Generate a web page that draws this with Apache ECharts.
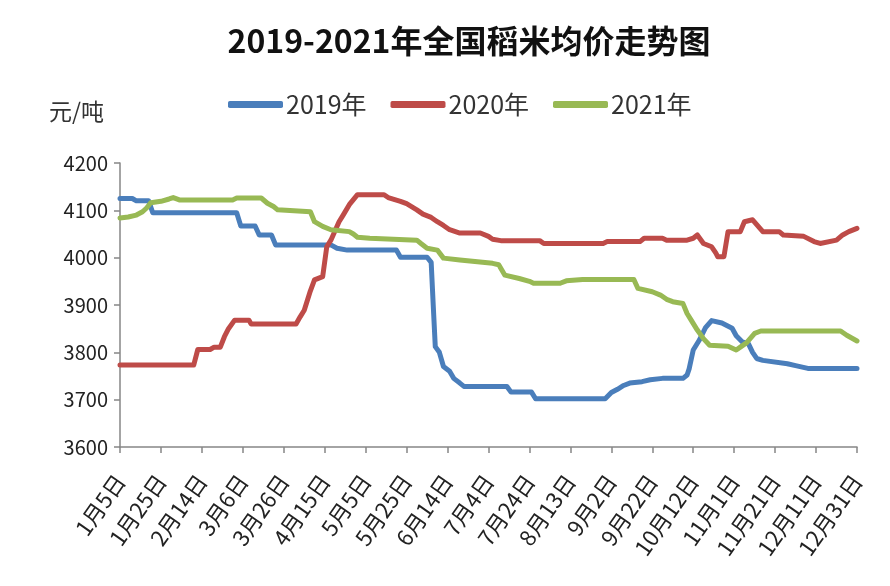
<!DOCTYPE html>
<html>
<head>
<meta charset="utf-8">
<script src="https://cdn.jsdelivr.net/npm/echarts@6/dist/echarts.min.js"></script>
<style>
html,body{margin:0;padding:0;background:#fff;}
#chart{width:890px;height:586px;}
</style>
</head>
<body>
<div id="chart"></div>
<script>
// Tick labels (one every 20 days, day index 0 = 1月5日)
const tickLabels = ['1月5日','1月25日','2月14日','3月6日','3月26日','4月15日','5月5日','5月25日','6月14日','7月4日','7月24日','8月13日','9月2日','9月22日','10月12日','11月1日','11月21日','12月11日','12月31日'];
const seriesNames = ['2019年','2020年','2021年'];

// [day index since 1月5日, 元/吨]
const price2019 = [[0,4125],[6,4125],[8,4120],[14,4120],[16,4095],[57,4095],[59,4067],[66,4067],[68,4048],[74,4048],[76,4027],[103,4027],[106,4020],[111,4016],[135,4016],[137,4001],[150,4001],[152,3990],[153,3900],[154,3812],[156,3800],[158,3770],[161,3760],[163,3745],[166,3735],[168,3728],[189,3728],[191,3716],[201,3716],[203,3702],[237,3702],[240,3715],[243,3722],[246,3730],[249,3735],[255,3738],[259,3742],[265,3745],[275,3745],[277,3752],[278,3765],[280,3805],[283,3826],[286,3852],[289,3867],[294,3862],[299,3851],[301,3835],[304,3822],[307,3818],[309,3800],[311,3787],[314,3783],[326,3776],[330,3772],[336,3766],[360,3766]];
const price2020 = [[0,3773],[36,3773],[38,3806],[44,3806],[46,3811],[49,3811],[51,3833],[53,3850],[56,3868],[63,3868],[64,3860],[86,3860],[88,3875],[90,3889],[93,3930],[95,3953],[99,3960],[101,4023],[103,4037],[107,4076],[109,4090],[112,4112],[116,4133],[129,4133],[131,4127],[137,4119],[140,4114],[145,4101],[148,4092],[152,4085],[155,4076],[158,4068],[161,4059],[166,4052],[176,4052],[180,4045],[182,4039],[186,4036],[205,4036],[207,4030],[236,4030],[238,4034],[254,4034],[256,4041],[265,4041],[267,4037],[277,4037],[280,4041],[282,4048],[285,4030],[289,4023],[291,4010],[292,4002],[295,4002],[297,4055],[303,4055],[305,4076],[309,4080],[314,4055],[322,4055],[324,4048],[334,4045],[339,4034],[342,4030],[350,4037],[353,4048],[356,4055],[360,4062]];
const price2021 = [[0,4084],[4,4086],[8,4090],[11,4097],[13,4105],[15,4116],[20,4119],[24,4124],[26,4127],[29,4122],[55,4122],[57,4126],[69,4126],[72,4115],[75,4108],[77,4101],[93,4097],[95,4076],[99,4066],[103,4059],[112,4055],[114,4050],[116,4043],[122,4041],[145,4037],[147,4030],[150,4020],[155,4016],[158,3999],[166,3995],[182,3988],[185,3985],[188,3963],[195,3956],[200,3950],[202,3946],[215,3946],[218,3951],[226,3954],[251,3954],[253,3935],[260,3928],[264,3921],[267,3912],[270,3907],[275,3903],[277,3882],[279,3868],[282,3847],[285,3829],[288,3815],[297,3813],[301,3805],[303,3811],[306,3820],[310,3840],[313,3845],[352,3845],[355,3836],[360,3824]];

const colors = ['#4a7ebb','#be4b48','#98b954'];
const FONT = '"Noto Sans CJK SC", "Noto Sans", sans-serif';

const chart = echarts.init(document.getElementById('chart'), null, {renderer:'canvas'});
const mk = (name, data, color) => ({
  name: name, type: 'line', data: data, showSymbol: false, symbol: 'none',
  lineStyle: {width: 5, color: color, cap: 'round', join: 'round'},
  itemStyle: {color: color}, animation: false, z: 2
});
chart.setOption({
  animation: false,
  backgroundColor: '#ffffff',
  textStyle: {fontFamily: FONT},
  title: [
    {text: '2019-2021年全国稻米均价走势图', left: 464, top: 20, textAlign: 'center',
     textStyle: {fontFamily: FONT, fontSize: 32, fontWeight: 'bold', color: '#111'}},
    {text: '元/吨', left: 44, top: 95,
     textStyle: {fontFamily: FONT, fontSize: 23, fontWeight: 'normal', color: '#333'}}
  ],
  legend: {
    left: 228, top: 92, padding: 0, itemWidth: 55, itemHeight: 7, itemGap: 24, icon: 'roundRect',
    textStyle: {fontFamily: FONT, fontSize: 25, color: '#333', padding: [0,0,0,-2]},
    data: seriesNames
  },
  grid: {left: 120, right: 33, top: 163, bottom: 139, containLabel: false},
  xAxis: {
    type: 'value', min: 0, max: 360, interval: 20,
    axisLine: {show: true, lineStyle: {color: '#868686', width: 1.5}},
    axisTick: {show: true, length: 6, lineStyle: {color: '#868686', width: 1.5}},
    splitLine: {show: false},
    axisLabel: {
      rotate: 55, margin: 30, fontSize: 22, color: '#222', fontFamily: FONT,
      formatter: v => tickLabels[Math.round(v / 20)] || ''
    }
  },
  yAxis: {
    type: 'value', min: 3600, max: 4200, interval: 100,
    axisLine: {show: true, lineStyle: {color: '#868686', width: 1.5}},
    axisTick: {show: true, length: 6, lineStyle: {color: '#868686', width: 1.5}},
    splitLine: {show: false},
    axisLabel: {fontSize: 20, color: '#222', margin: 12, fontFamily: FONT, formatter: v => String(v)}
  },
  series: [
    mk(seriesNames[0], price2019, colors[0]),
    mk(seriesNames[1], price2020, colors[1]),
    mk(seriesNames[2], price2021, colors[2])
  ]
});
</script>
</body>
</html>
